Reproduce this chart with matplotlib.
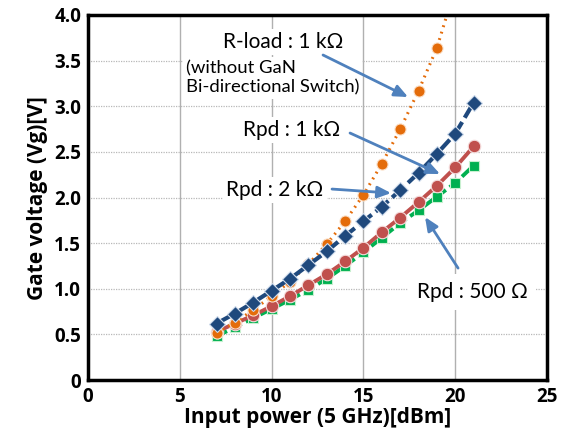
import matplotlib
matplotlib.use("Agg")
import matplotlib.pyplot as plt

plt.rcParams['font.family'] = ['Lato', 'DejaVu Sans']

x = [7, 8, 9, 10, 11, 12, 13, 14, 15, 16, 17, 18, 19, 20, 21]
x_rload = [7, 8, 9, 10, 11, 12, 13, 14, 15, 16, 17, 18, 19, 20]
rload_1k = [0.52, 0.63, 0.77, 0.92, 1.08, 1.27, 1.49, 1.74, 2.03, 2.37, 2.75, 3.17, 3.64, 4.30]
rpd_1k = [0.62, 0.73, 0.85, 0.98, 1.11, 1.26, 1.41, 1.58, 1.74, 1.90, 2.08, 2.27, 2.48, 2.70, 3.04]
rpd_2k = [0.53, 0.62, 0.71, 0.81, 0.92, 1.04, 1.16, 1.30, 1.45, 1.62, 1.78, 1.95, 2.13, 2.33, 2.56]
rpd_500 = [0.48, 0.58, 0.68, 0.78, 0.88, 0.99, 1.11, 1.25, 1.40, 1.56, 1.72, 1.86, 2.01, 2.16, 2.35]

xticks = [0, 5, 10, 15, 20, 25]
yticks = [0, 0.5, 1.0, 1.5, 2.0, 2.5, 3.0, 3.5, 4.0]
ytick_labels = ['0', '0.5', '1.0', '1.5', '2.0', '2.5', '3.0', '3.5', '4.0']

bold_font = ['Open Sans', 'DejaVu Sans']

fig = plt.figure(figsize=(5.64, 4.41), dpi=100)
ax = fig.add_axes([0.156, 0.138, 0.814, 0.828])
ax.set_xlim(0, 25)
ax.set_ylim(0, 4.0)

for v in [5, 10, 15, 20]:
    ax.axvline(v, color='#b0b0b0', lw=1.0, zorder=0)
for v in yticks[1:-1]:
    ax.axhline(v, color='#b8b8b8', lw=0.9, ls=(0, (1, 1)), zorder=0)

ax.plot(x, rpd_500, color='#00B050', lw=2.8, ls=(0, (3, 1.2)), marker='s', ms=7,
        mfc='#00B050', mec='#c8f0d0', mew=0.8, zorder=3)
ax.plot(x, rpd_2k, color='#C0504D', lw=2.8, ls='-', marker='o', ms=9,
        mfc='#C0504D', mec='#f5dcdc', mew=0.8, zorder=4)
ax.plot(x_rload, rload_1k, color='#E46C0A', lw=2.2, ls=(0, (0.6, 1.6)), marker='o', ms=8,
        mfc='#E46C0A', mec='#fbe0c8', mew=0.8, zorder=5, clip_on=True)
ax.plot(x, rpd_1k, color='#1F497D', lw=3.0, ls=(0, (4, 1.2)), marker='D', ms=8,
        mfc='#1F497D', mec='#d0dcec', mew=0.8, zorder=6)

for s in ax.spines.values():
    s.set_linewidth(2.5)
    s.set_color('black')

ax.set_xticks(xticks)
ax.set_yticks(yticks)
ax.set_yticklabels(ytick_labels)
ax.tick_params(length=0, pad=5)
for lab in ax.get_xticklabels() + ax.get_yticklabels():
    lab.set_fontweight('bold')
    lab.set_family(bold_font)
    lab.set_fontsize(13.5)

ax.set_xlabel('Input power (5 GHz)[dBm]', fontsize=15, fontweight='bold', family=bold_font, labelpad=0)
ax.set_ylabel('Gate voltage (Vg)[V]', fontsize=15, fontweight='bold', family=bold_font, labelpad=4)

arrow_col = '#4F81BD'
ap = dict(arrowstyle='-|>,head_length=0.8,head_width=0.35', color=arrow_col, lw=2.0,
          shrinkA=0, shrinkB=0)

def px2data(px, py):
    return (px - 88) / 18.36, (380 - py) / 91.25

bbox = dict(boxstyle='square,pad=0.15', fc='white', ec='none')

tx, ty = px2data(283, 42)
ax.text(tx, ty, 'R-load : 1 k\u03a9', fontsize=15, ha='center', va='center', zorder=7, bbox=bbox)
tx, ty = px2data(186, 78)
ax.text(tx, ty, '(without GaN\nBi-directional Switch)', fontsize=13.3, ha='left', va='center',
        linespacing=1.25, zorder=7, bbox=bbox)
ax.annotate('', xy=px2data(408, 97), xytext=px2data(323, 55), arrowprops=ap, zorder=8)

tx, ty = px2data(292, 130)
ax.text(tx, ty, 'Rpd : 1 k\u03a9', fontsize=15, ha='center', va='center', zorder=7, bbox=bbox)
ax.annotate('', xy=px2data(440, 174), xytext=px2data(350, 133), arrowprops=ap, zorder=8)

tx, ty = px2data(275, 190)
ax.text(tx, ty, 'Rpd : 2 k\u03a9', fontsize=15, ha='center', va='center', zorder=7, bbox=bbox)
ax.annotate('', xy=px2data(391, 193), xytext=px2data(332, 189), arrowprops=ap, zorder=8)

tx, ty = px2data(472, 292)
ax.text(tx, ty, 'Rpd : 500 \u03a9', fontsize=15, ha='center', va='center', zorder=7,
        bbox=dict(boxstyle='square,pad=0.4', fc='white', ec='none'))
ax.annotate('', xy=px2data(425, 217), xytext=px2data(458, 268), arrowprops=ap, zorder=8)

fig.savefig('out.png', dpi=100)
